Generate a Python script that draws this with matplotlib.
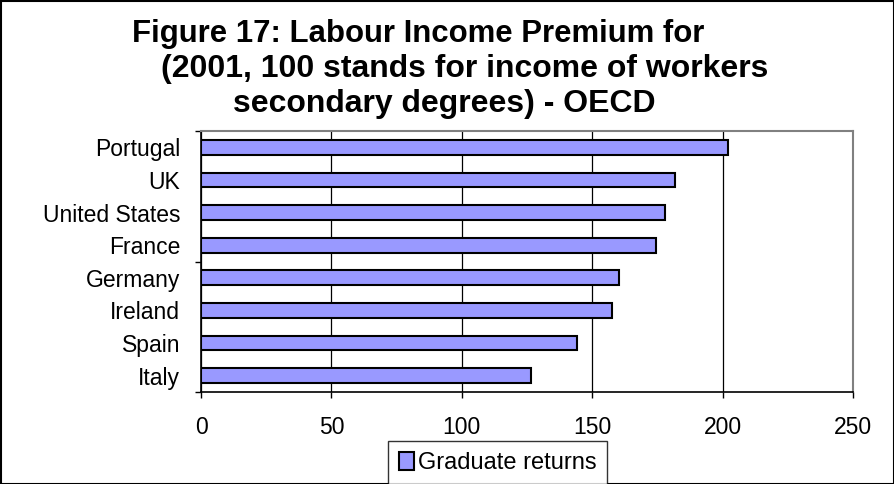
import matplotlib
matplotlib.use("Agg")
import matplotlib.pyplot as plt
from matplotlib.patches import Rectangle

countries = ["Portugal", "UK", "United States", "France", "Germany", "Ireland", "Spain", "Italy"]
values = [202, 181.6, 178, 174.6, 160.4, 157.6, 144.2, 126.4]
xticks = [0, 50, 100, 150, 200, 250]
series_name = "Graduate returns"
title_lines = ["Figure 17: Labour Income Premium for",
               "(2001, 100 stands for income of workers",
               "secondary degrees) - OECD"]

plt.rcParams['font.family'] = ['Liberation Sans', 'DejaVu Sans']

W, H = 895, 484
fig = plt.figure(figsize=(W / 100, H / 100), dpi=100)
ax = fig.add_axes([201 / W, 1 - 392 / H, (853 - 201) / W, (392 - 131) / H])

ypos = list(range(len(countries)))
bars = ax.barh(ypos, values, height=0.45, color='#9999FF', edgecolor='black',
               linewidth=1.5, label=series_name, zorder=3)
ax.set_ylim(len(countries) - 0.5, -0.5)
ax.set_xlim(0, 250)
ax.set_xticks(xticks)
ax.set_xticklabels([str(v) for v in xticks], fontsize=16.5)
ax.tick_params(axis='x', length=4.5, width=1, pad=13, direction='out')
ax.set_yticks(ypos)
ax.set_yticklabels(countries, fontsize=16.5)
ax.tick_params(axis='y', which='major', length=0, pad=15)
ax.set_yticks([-0.5, 3.5, 7.5], minor=True)
ax.tick_params(axis='y', which='minor', length=4, width=1)

ax.grid(axis='x', color='black', linewidth=0.9, zorder=0)
for s in ['top', 'right']:
    ax.spines[s].set_color('#808080')
    ax.spines[s].set_linewidth(1.5)
for s in ['left', 'bottom']:
    ax.spines[s].set_color('black')
    ax.spines[s].set_linewidth(1.2)

# title lines
fig.text(132 / W, 1 - 42 / H, title_lines[0], fontsize=22.4, fontweight='bold', ha='left', va='baseline')
fig.text(161 / W, 1 - 77 / H, title_lines[1], fontsize=23, fontweight='bold', ha='left', va='baseline')
fig.text(233 / W, 1 - 112 / H, title_lines[2], fontsize=23, fontweight='bold', ha='left', va='baseline')

leg = fig.legend(handles=[bars], labels=[series_name], loc='upper left',
                 bbox_to_anchor=(388 / W, 1 - 441 / H), frameon=True, fancybox=False,
                 fontsize=17, handlelength=0.65, handleheight=0.85, handletextpad=0.15,
                 borderpad=0.45, edgecolor='black', borderaxespad=0)
leg.get_frame().set_linewidth(1.0)

fig.patches.append(Rectangle((0.001, 0.001), 0.998, 0.997, transform=fig.transFigure,
                             fill=False, edgecolor='black', linewidth=1.5))

fig.savefig("out.png", dpi=100)
